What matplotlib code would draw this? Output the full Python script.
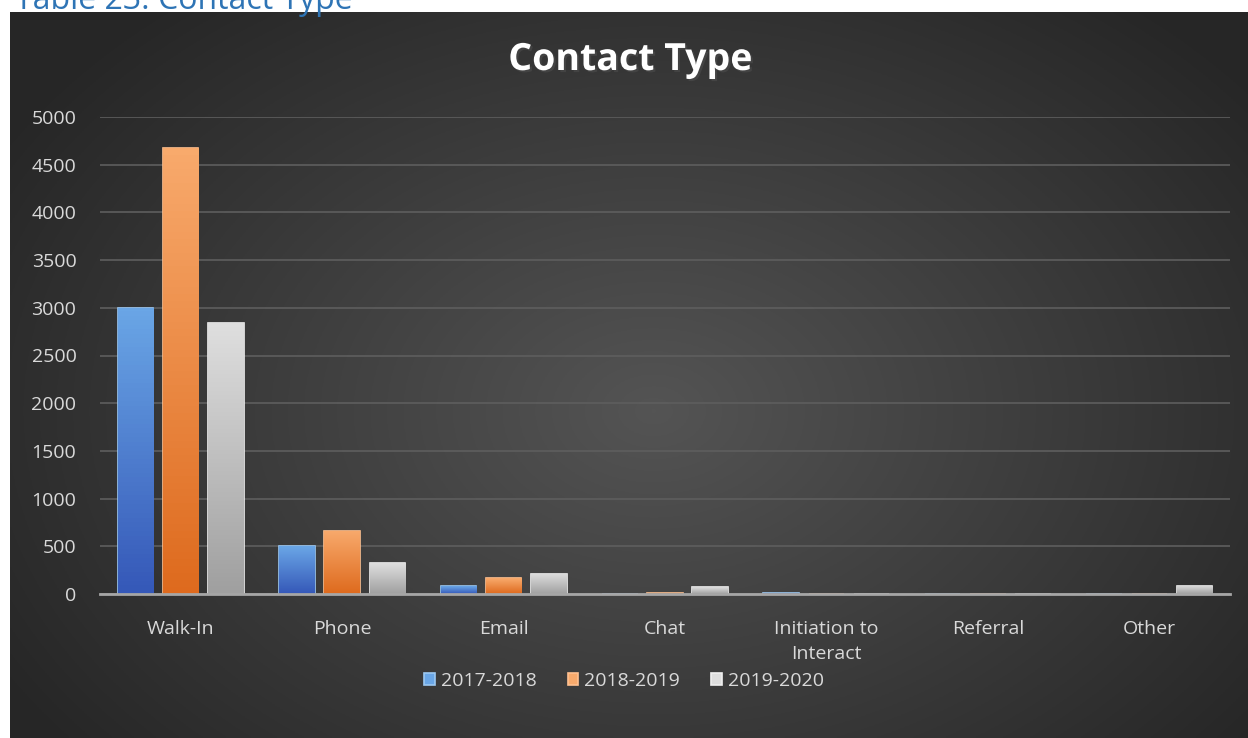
import numpy as np
import matplotlib
matplotlib.use("Agg")
import matplotlib.pyplot as plt
import matplotlib.patheffects as pe
from matplotlib.colors import to_rgb

# ---------- Data ----------
categories = ["Walk-In", "Phone", "Email", "Chat", "Initiation to\nInteract", "Referral", "Other"]
years = ["2017-2018", "2018-2019", "2019-2020"]
vals_1718 = [3000, 500, 80, 0, 15, 0, 0]
vals_1819 = [4670, 665, 165, 15, 0, 0, 0]
vals_1920 = [2840, 320, 210, 70, 0, 0, 85]
yticks = [0, 500, 1000, 1500, 2000, 2500, 3000, 3500, 4000, 4500, 5000]

# (bottom, top) gradient colours per series
grads = [("#3558b8", "#6aa6e6"), ("#de6a1e", "#f8aa6c"), ("#a0a0a0", "#dedede")]
edges = ["#9cc8f2", "#ffc08f", "#f0f0f0"]
txt_col = "#d9d9d9"
plt.rcParams["font.family"] = ["Open Sans", "DejaVu Sans"]

fig = plt.figure(figsize=(12.48, 7.38), dpi=100)
fig.patch.set_facecolor("white")

# caption above the chart (cut at the top like the source)
fig.text(0.012, 1 - 9 / 738, "Table 23: Contact Type", color="#2e74b5",
         fontsize=23, ha="left", va="baseline")

# dark radial gradient background of the chart frame
bg = fig.add_axes([10 / 1248, 0, 1 - 10 / 1248, 1 - 12 / 738])
bg.set_axis_off()
yy, xx = np.mgrid[0:1:300j, 0:1:500j]
r = np.sqrt(((xx - 0.52) / 0.75) ** 2 + ((yy - 0.55) / 0.9) ** 2)
shade = np.clip(0.33 - 0.22 * r, 0.15, 0.33)
bg.imshow(np.dstack([shade] * 3), aspect="auto", extent=[0, 1, 0, 1])
bg.set_xlim(0, 1)
bg.set_ylim(0, 1)

ax = fig.add_axes([100 / 1248, 1 - 594 / 738, 1130 / 1248, 477 / 738])
ax.patch.set_alpha(0)
x = np.arange(len(categories))
w = 0.22
off = 0.28
for i, vals in enumerate([vals_1718, vals_1819, vals_1920]):
    lo, hi = np.array(to_rgb(grads[i][0])), np.array(to_rgb(grads[i][1]))
    bars = ax.bar(x + (i - 1) * off, vals, width=w, color=grads[i][1],
                  edgecolor=edges[i], linewidth=1.2, label=years[i], zorder=3)
    t = np.linspace(0, 1, 64)[:, None]
    img = (lo + (hi - lo) * t)[:, None, :]
    for b in bars:
        if b.get_height() <= 0:
            continue
        im = ax.imshow(img, origin="lower", aspect="auto", zorder=3.5,
                       extent=[b.get_x(), b.get_x() + b.get_width(), 0, b.get_height()])
        im.set_clip_path(b)

ax.set_xlim(-0.5, len(categories) - 0.5)
ax.set_ylim(0, 5000)
ax.set_yticks(yticks)
ax.set_xticks(x)
ax.set_xticklabels(categories, color=txt_col, fontsize=14, linespacing=1.45)
ax.tick_params(axis="y", colors=txt_col, labelsize=14, length=0, pad=17)
ax.tick_params(axis="x", length=0, pad=19)
ax.grid(axis="y", color="#5e5e5e", linewidth=1.2, zorder=0)
for s in ["top", "right", "left"]:
    ax.spines[s].set_visible(False)
ax.spines["bottom"].set_color("#a6a6a6")
ax.spines["bottom"].set_linewidth(2)
ax.spines["bottom"].set_zorder(4)

fig.text(0.505, 1 - 60 / 738, "Contact Type", color="white", fontsize=27,
         fontweight="bold", ha="center", va="center",
         path_effects=[pe.withSimplePatchShadow(offset=(1.5, -1.5), alpha=0.6)])

leg = fig.legend(loc="center", bbox_to_anchor=(0.5, 1 - 681 / 738), ncol=3,
                 frameon=False, fontsize=14, handlelength=0.55, handleheight=0.55,
                 columnspacing=1.6, handletextpad=0.3)
for t in leg.get_texts():
    t.set_color(txt_col)

fig.savefig("out.png", dpi=100, facecolor=fig.get_facecolor())
